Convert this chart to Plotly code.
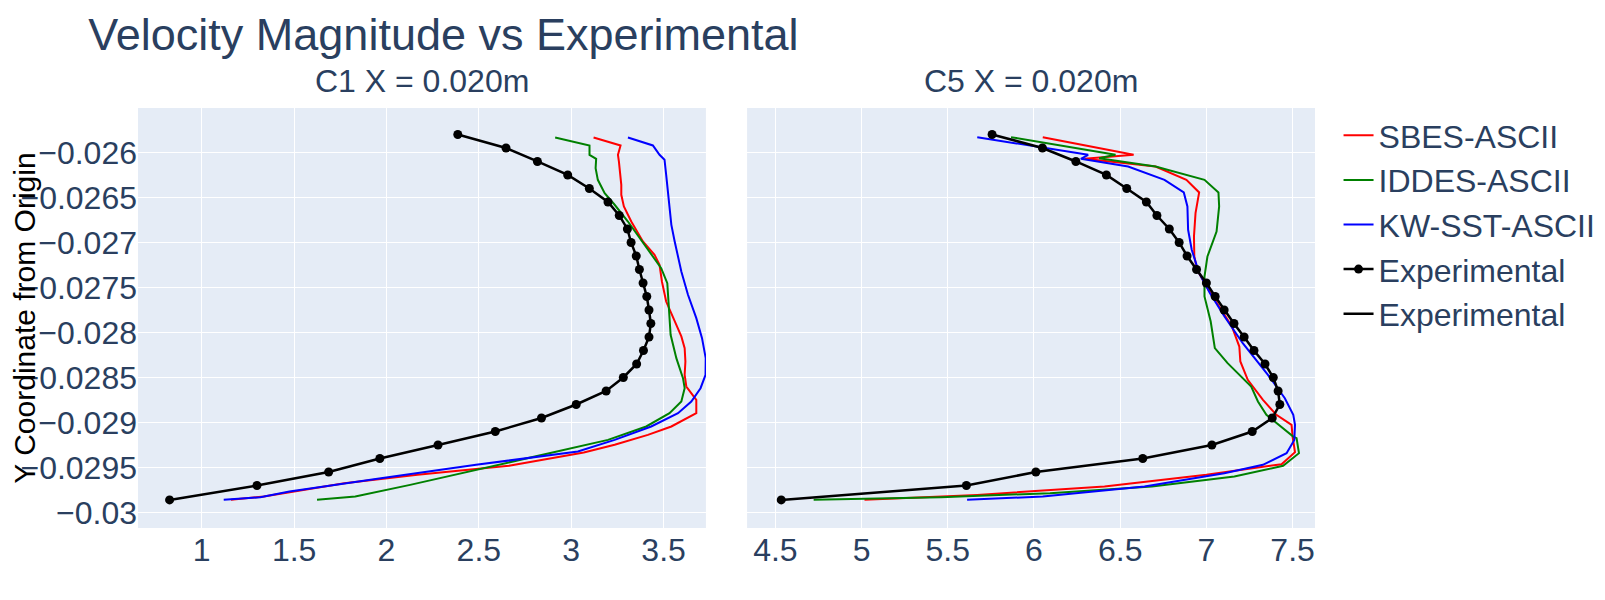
import plotly.graph_objects as go
from plotly.subplots import make_subplots

# ---------------- Data ----------------
exp_y = [-0.02580, -0.02595, -0.02610, -0.02625, -0.02640, -0.02655, -0.02670,
         -0.02685, -0.02700, -0.02715, -0.02730, -0.02745, -0.02760, -0.02775,
         -0.02790, -0.02805, -0.02820, -0.02835, -0.02850, -0.02865, -0.02880,
         -0.02895, -0.02910, -0.02925, -0.02940, -0.02955, -0.02970, -0.02986]

exp_c1_x = [2.386, 2.647, 2.817, 2.981, 3.098, 3.199, 3.260, 3.304, 3.324, 3.352,
            3.369, 3.389, 3.409, 3.421, 3.431, 3.421, 3.391, 3.354, 3.282, 3.189,
            3.027, 2.839, 2.589, 2.279, 1.964, 1.687, 1.299, 0.826]

exp_c5_x = [5.757, 6.049, 6.243, 6.420, 6.538, 6.652, 6.713, 6.785, 6.842, 6.888,
            6.943, 7.000, 7.051, 7.103, 7.160, 7.219, 7.276, 7.340, 7.388, 7.416,
            7.426, 7.382, 7.266, 7.032, 6.631, 6.011, 5.608, 4.534]

# C1 simulations
sbes_c1_x = [3.121, 3.267, 3.253, 3.258, 3.271, 3.271, 3.285, 3.325, 3.388, 3.451,
             3.478, 3.491, 3.514, 3.551, 3.596, 3.614, 3.618, 3.614, 3.623, 3.677,
             3.677, 3.542, 3.415, 3.235, 3.068, 2.663, 2.168, 1.772, 1.336, 1.158]
sbes_c1_y = [-0.025833, -0.025922, -0.026026, -0.026100, -0.026359, -0.026470,
             -0.026600, -0.026767, -0.026989, -0.027137, -0.027248, -0.027433,
             -0.027656, -0.027841, -0.028044, -0.028174, -0.028322, -0.028470,
             -0.028600, -0.028748, -0.028896, -0.029044, -0.029137, -0.029248,
             -0.029333, -0.029481, -0.029581, -0.029674, -0.029822, -0.029859]

iddes_c1_x = [2.913, 3.099, 3.099, 3.135, 3.132, 3.144, 3.181, 3.235, 3.307, 3.397,
              3.487, 3.520, 3.527, 3.538, 3.569, 3.605, 3.614, 3.596, 3.532, 3.406,
              3.199, 2.762, 2.485, 2.128, 1.831, 1.624]
iddes_c1_y = [-0.025833, -0.025922, -0.026026, -0.026070, -0.026174, -0.026304,
              -0.026452, -0.026581, -0.026767, -0.027026, -0.027285, -0.027452,
              -0.027730, -0.028026, -0.028285, -0.028507, -0.028619, -0.028767,
              -0.028896, -0.029044, -0.029193, -0.029396, -0.029526, -0.029693,
              -0.029822, -0.029859]

kw_c1_x = [3.307, 3.442, 3.478, 3.505, 3.514, 3.527, 3.542, 3.560, 3.596, 3.632,
           3.677, 3.708, 3.728, 3.727, 3.700, 3.650, 3.578, 3.433, 3.235, 3.036,
           2.485, 1.970, 1.475, 1.317, 1.119]
kw_c1_y = [-0.025833, -0.025922, -0.026026, -0.026081, -0.026248, -0.026544,
           -0.026804, -0.026989, -0.027322, -0.027581, -0.027841, -0.028063,
           -0.028285, -0.028470, -0.028619, -0.028767, -0.028896, -0.029044,
           -0.029193, -0.029322, -0.029470, -0.029619, -0.029767, -0.029830,
           -0.029859]

# C5 simulations
sbes_c5_x = [6.051, 6.578, 6.293, 6.705, 6.884, 6.958, 6.937, 6.928, 6.930, 6.947,
             7.000, 7.063, 7.148, 7.191, 7.197, 7.240, 7.328, 7.406, 7.494, 7.500,
             7.514, 7.436, 7.000, 6.409, 5.671, 5.017]
sbes_c5_y = [-0.025830, -0.026026, -0.026070, -0.026156, -0.026304, -0.026444,
             -0.026674, -0.026933, -0.027156, -0.027304, -0.027489, -0.027674,
             -0.027933, -0.028156, -0.028322, -0.028526, -0.028748, -0.028915,
             -0.029026, -0.029156, -0.029330, -0.029463, -0.029581, -0.029711,
             -0.029804, -0.029859]

iddes_c5_x = [5.867, 6.473, 6.378, 6.705, 6.989, 7.070, 7.074, 7.059, 7.006, 6.989,
              6.989, 7.006, 7.025, 7.049, 7.123, 7.260, 7.299, 7.348, 7.406, 7.504,
              7.523, 7.537, 7.445, 7.162, 6.684, 6.093, 5.460, 4.722]
iddes_c5_y = [-0.025830, -0.026026, -0.026063, -0.026156, -0.026304, -0.026444,
              -0.026600, -0.026878, -0.027156, -0.027378, -0.027600, -0.027730,
              -0.027878, -0.028174, -0.028341, -0.028600, -0.028767, -0.028915,
              -0.029007, -0.029156, -0.029174, -0.029341, -0.029481, -0.029600,
              -0.029711, -0.029785, -0.029830, -0.029859]

kw_c5_x = [5.671, 6.314, 6.272, 6.546, 6.757, 6.869, 6.890, 6.894, 6.915, 6.958,
           7.021, 7.105, 7.211, 7.357, 7.455, 7.504, 7.514, 7.510, 7.465, 7.328,
           7.104, 6.641, 6.051, 5.612]
kw_c5_y = [-0.025830, -0.026026, -0.026070, -0.026156, -0.026304, -0.026444,
           -0.026600, -0.026859, -0.027081, -0.027341, -0.027563, -0.027822,
           -0.028119, -0.028470, -0.028730, -0.028915, -0.029026, -0.029193,
           -0.029341, -0.029470, -0.029563, -0.029711, -0.029822, -0.029859]

subplot_titles = ["C1 X = 0.020m", "C5 X = 0.020m"]
series_names = ["SBES-ASCII", "IDDES-ASCII", "KW-SST-ASCII"]
series_colors = ["red", "green", "blue"]

# ---------------- Figure ----------------
FONT = "Arial, 'Liberation Sans', sans-serif"
FS = 32

fig = make_subplots(rows=1, cols=2, shared_yaxes=True,
                    horizontal_spacing=0.035, subplot_titles=subplot_titles)

c1_sims = [(sbes_c1_x, sbes_c1_y), (iddes_c1_x, iddes_c1_y), (kw_c1_x, kw_c1_y)]
c5_sims = [(sbes_c5_x, sbes_c5_y), (iddes_c5_x, iddes_c5_y), (kw_c5_x, kw_c5_y)]

for (xs, ys), name, color in zip(c1_sims, series_names, series_colors):
    fig.add_trace(go.Scatter(x=xs, y=ys, mode="lines", name=name,
                             line=dict(color=color, width=2)),
                  row=1, col=1)
fig.add_trace(go.Scatter(x=exp_c1_x, y=exp_y, mode="lines+markers", name="Experimental",
                         line=dict(color="black", width=2.5),
                         marker=dict(color="black", size=9)),
              row=1, col=1)

for (xs, ys), name, color in zip(c5_sims, series_names, series_colors):
    fig.add_trace(go.Scatter(x=xs, y=ys, mode="lines", name=name, showlegend=False,
                             line=dict(color=color, width=2)),
                  row=1, col=2)
fig.add_trace(go.Scatter(x=exp_c5_x, y=exp_y, mode="lines", name="Experimental",
                         line=dict(color="black", width=2.5)),
              row=1, col=2)
fig.add_trace(go.Scatter(x=exp_c5_x, y=exp_y, mode="markers", name="Experimental",
                         showlegend=False, marker=dict(color="black", size=9)),
              row=1, col=2)

fig.update_layout(
    width=1605, height=600,
    template="plotly",
    font=dict(family=FONT, size=FS),
    title=dict(text="Velocity Magnitude vs Experimental", x=0.05, y=0.956,
               yanchor="middle", font=dict(size=45)),
    margin=dict(l=130, r=298, t=100, b=80),
    legend=dict(font=dict(size=FS)),
)
for ann in fig.layout.annotations:
    ann.font = dict(family=FONT, size=FS)
    ann.yshift = 7

fig.update_xaxes(range=[0.655, 3.729], automargin=False, row=1, col=1)
fig.update_xaxes(range=[4.336, 7.63], automargin=False, row=1, col=2)
fig.update_yaxes(range=[-0.030172, -0.025506], dtick=0.0005, automargin=False)
fig.update_yaxes(title=dict(text="Y Coordinate from Origin", font=dict(color="black", size=30)),
                 row=1, col=1)

fig.write_html("out.html")
